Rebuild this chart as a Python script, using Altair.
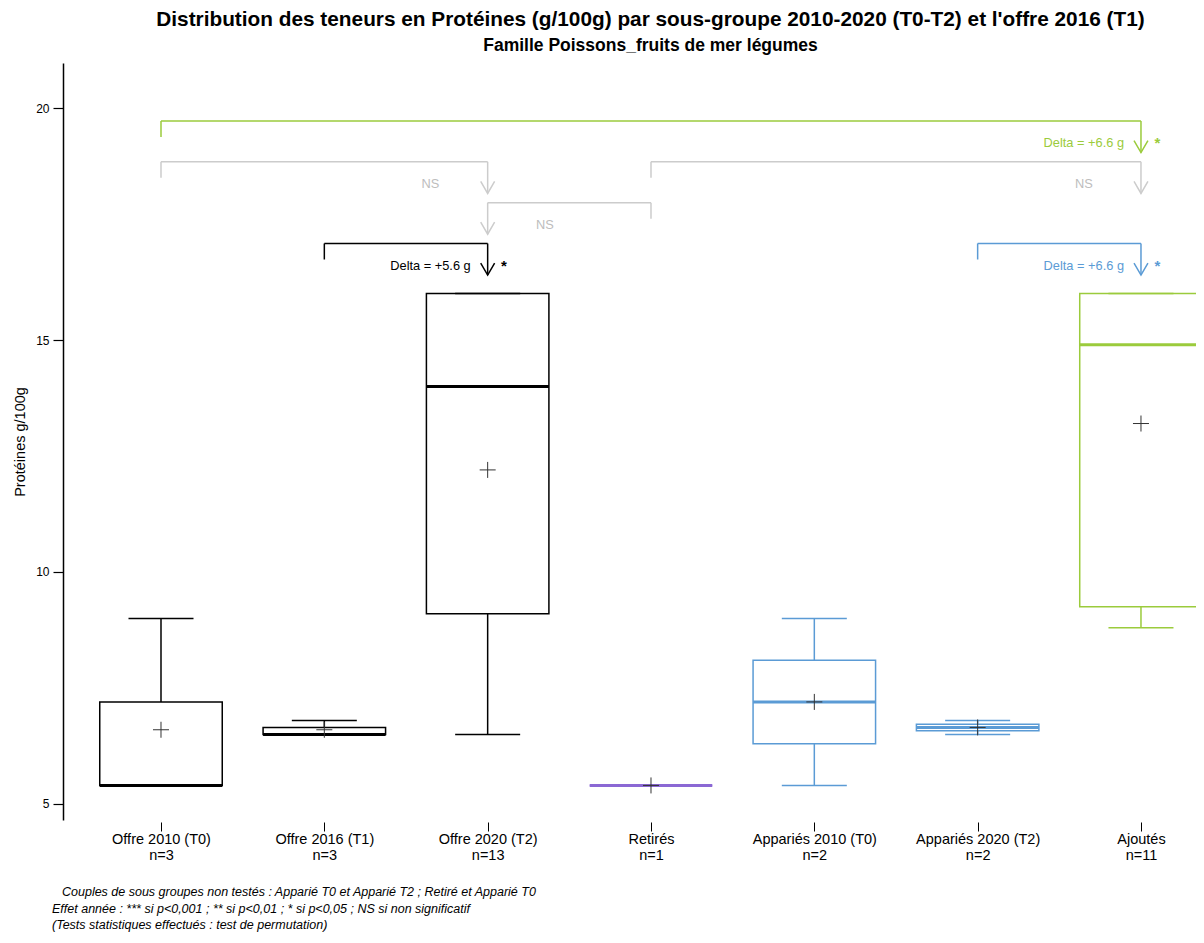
import altair as alt
import pandas as pd

# ---- data ----
cats = ["Offre 2010 (T0)", "Offre 2016 (T1)", "Offre 2020 (T2)", "Retirés",
        "Appariés 2010 (T0)", "Appariés 2020 (T2)", "Ajoutés"]
ns = [3, 3, 13, 1, 2, 2, 11]
lo = [5.4, 6.5, 6.5, 5.4, 5.4, 6.5, 8.8]
q1 = [5.4, 6.5, 9.1, 5.4, 6.3, 6.58, 9.25]
med = [5.4, 6.5, 14.0, 5.4, 7.2, 6.65, 14.9]
q3 = [7.2, 6.65, 16.0, 5.4, 8.1, 6.72, 16.0]
hi = [9.0, 6.8, 16.0, 5.4, 9.0, 6.8, 16.0]
mean = [6.6, 6.6, 12.2, 5.4, 7.2, 6.65, 13.2]
box_colors = ["#000000", "#000000", "#000000", "#8B68D4", "#5B9BD5", "#5B9BD5", "#9BCB3C"]

# comparison brackets (from group index -> to group index)
br_from = [1, 1, 4, 4, 2, 6]
br_to = [7, 3, 7, 3, 3, 7]
br_level = [0, 1, 1, 2, 3, 3]
br_label = ["Delta = +6.6 g", "NS", "NS", "NS", "Delta = +5.6 g", "Delta = +6.6 g"]
br_star = ["*", "", "", "", "*", "*"]
br_color = ["#9BCB3C", "#CCCCCC", "#CCCCCC", "#CCCCCC", "#000000", "#5B9BD5"]
br_textcolor = ["#9BCB3C", "#BDBDBD", "#BDBDBD", "#BDBDBD", "#000000", "#5B9BD5"]

title = "Distribution des teneurs en Protéines (g/100g) par sous-groupe 2010-2020 (T0-T2) et l'offre 2016 (T1)"
subtitle = "Famille Poissons_fruits de mer légumes"
notes = [
    "   Couples de sous groupes non testés : Apparié T0 et Apparié T2 ; Retiré et Apparié T0",
    "Effet année : *** si p<0,001 ; ** si p<0,01 ; * si p<0,05 ; NS si non significatif",
    "(Tests statistiques effectués : test de permutation)",
]

FONT = "Liberation Sans"

box = pd.DataFrame({"pos": list(range(1, len(cats) + 1)), "cat": cats, "n": ns,
                    "lo": lo, "q1": q1, "med": med, "q3": q3, "hi": hi,
                    "mean": mean, "col": box_colors})
br = pd.DataFrame({"f": br_from, "t": br_to, "level": br_level, "label": br_label,
                   "star": br_star, "col": br_color, "tcol": br_textcolor})

W, H = 1133, 757
xs = alt.Scale(domain=[0.4, 0.4 + W / 163.33], nice=False, zero=False)
ys = alt.Scale(domain=[4.655, 20.97], nice=False, zero=False)

label_js = "[" + ",".join(f"['{c}','n={n}']" for c, n in zip(cats, ns)) + "][datum.value - 1]"
xaxis = alt.Axis(values=list(range(1, len(cats) + 1)), labelExpr=label_js, domain=False,
                 tickSize=9, offset=2, tickColor="black", tickWidth=1, labelFontSize=14.5,
                 labelPadding=1, labelLineHeight=16, grid=False, labelColor="black",
                 labelFont=FONT, labelOverlap=False, labelFlush=False, title=None)
yaxis = alt.Axis(values=[5, 10, 15, 20], tickSize=10, tickColor="black", domainColor="black",
                 domainWidth=1.5, tickWidth=1.2, labelFontSize=12, labelPadding=4,
                 labelColor="black", labelFont=FONT, grid=False,
                 title="Protéines g/100g", titleFontSize=14.5, titleFontWeight="normal",
                 titleFont=FONT, titleColor="black", titlePadding=8)


def X(f):
    return alt.X(f, type="quantitative", scale=xs, axis=xaxis)


def Y(f):
    return alt.Y(f, type="quantitative", scale=ys, axis=yaxis)


COL = alt.Color("col:N", scale=None, legend=None)

base = alt.Chart(box).transform_calculate(
    xl="datum.pos - 0.375", xr="datum.pos + 0.375",
    cl="datum.pos - 0.199", cr="datum.pos + 0.199")

whisk_lo = base.mark_rule(strokeWidth=1.5).encode(x=X("pos"), y=Y("lo"), y2="q1", color=COL)
whisk_hi = base.mark_rule(strokeWidth=1.5).encode(x=X("pos"), y=Y("q3"), y2="hi", color=COL)
cap_lo = base.mark_rule(strokeWidth=1.5).encode(x=X("cl:Q"), x2="cr:Q", y=Y("lo"), color=COL)
cap_hi = base.mark_rule(strokeWidth=1.5).encode(x=X("cl:Q"), x2="cr:Q", y=Y("hi"), color=COL)
boxes = base.mark_rect(fill="white", strokeWidth=1.5).encode(
    x=X("xl:Q"), x2="xr:Q", y=Y("q1"), y2="q3",
    stroke=alt.Stroke("col:N", scale=None, legend=None))
medians = base.mark_rule(strokeWidth=3).encode(x=X("xl:Q"), x2="xr:Q", y=Y("med"), color=COL)
means = base.mark_point(shape="M -1 0 L 1 0 M 0 -1 L 0 1", size=256, filled=False,
                        strokeWidth=1, opacity=1, color="#333333").encode(x=X("pos"), y=Y("mean"))

bb = alt.Chart(br).transform_calculate(
    yl="19.72 - datum.level * 0.88",
    leg="19.72 - datum.level * 0.88 - 0.345",
    tip="19.72 - datum.level * 0.88 - 0.68",
    ty="19.72 - datum.level * 0.88 - 0.48",
    lx="datum.t - 0.35 * (datum.t > datum.f ? 1 : -1)",
    sx="datum.t + 0.1")
legs = bb.mark_rule(strokeWidth=1.5).encode(x=X("f"), y=Y("leg:Q"), y2="yl:Q", color=COL)
horiz = bb.mark_rule(strokeWidth=1.5).encode(x=X("f"), x2="t", y=Y("yl:Q"), color=COL)
stems = bb.mark_rule(strokeWidth=1.5).encode(x=X("t"), y=Y("yl:Q"), y2="tip:Q", color=COL)
heads = bb.mark_point(shape="M -0.58 -1 L 0 0 L 0.58 -1", size=576, filled=False,
                      strokeWidth=1.5, opacity=1).encode(x=X("t"), y=Y("tip:Q"), color=COL)
labels = bb.mark_text(fontSize=12.8, font=FONT, baseline="middle", align="center").encode(
    x=X("lx:Q"), y=Y("ty:Q"), text="label:N",
    color=alt.Color("tcol:N", scale=None, legend=None))
stars = bb.mark_text(fontSize=15, font=FONT, fontWeight="bold", baseline="middle",
                     align="center").encode(
    x=X("sx:Q"), y=Y("ty:Q"), text="star:N",
    color=alt.Color("tcol:N", scale=None, legend=None))

note_layers = []
note_pos = [(-1, 829), (-11, 846), (-11, 862)]
for txt, (nx, ny) in zip(notes, note_pos):
    note_layers.append(
        alt.Chart(pd.DataFrame({"t": [txt]})).mark_text(
            fontSize=12.5, font=FONT, fontStyle="italic", align="left", baseline="middle",
            color="black").encode(x=alt.value(nx), y=alt.value(ny), text="t:N"))

chart = alt.layer(
    whisk_lo, whisk_hi, boxes, medians, cap_lo, cap_hi, means,
    legs, horiz, stems, heads, labels, stars, *note_layers
).properties(
    width=W, height=H,
    padding={"left": 55, "top": 55, "right": 0, "bottom": 113},
    autosize=alt.AutoSizeParams(type="none"),
    title=alt.Title(text=title, subtitle=subtitle, font=FONT, fontSize=20.8, fontWeight="bold",
                    color="black", subtitleFont=FONT, subtitleFontSize=17.5,
                    subtitleFontWeight="bold", subtitleColor="black", anchor="middle",
                    dx=21, offset=8, subtitlePadding=6),
).configure_view(stroke=None)

chart.save("out.html", embed_options={"renderer": "svg", "actions": False})
